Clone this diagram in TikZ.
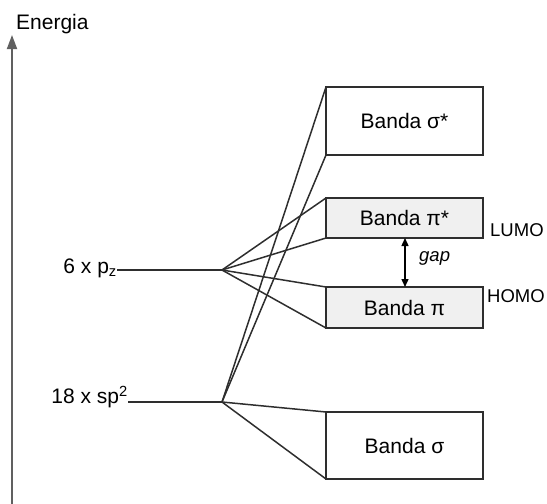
\documentclass[tikz,border=0pt]{standalone}
\usepackage{fontspec}
\setmainfont{Liberation Sans}
\usetikzlibrary{arrows.meta}
\definecolor{linegray}{HTML}{2E2E2E}
\definecolor{axisgray}{HTML}{606060}
\definecolor{bandfill}{HTML}{F0F0F0}
\begin{document}
\begin{tikzpicture}[x=1pt,y=-1pt,
  band/.style={draw=linegray, line width=1.7pt, minimum width=157pt, inner sep=0pt, outer sep=0pt,
    font=\fontsize{21}{24}\selectfont, anchor=north west},
  conn/.style={draw=linegray, line width=1.5pt},
  lbl/.style={font=\fontsize{21}{24}\selectfont, inner sep=0pt},
  smalllbl/.style={font=\fontsize{18.5}{21}\selectfont, inner sep=0pt}]
\useasboundingbox (0,0) rectangle (547,504);
% axis
\coordinate (axbot) at (12,504);
\coordinate (axtop) at (12,35);
\draw[axisgray, line width=1.8pt, -{Triangle[length=14pt,width=10pt]}] (axbot) -- (axtop);
\node[lbl, anchor=west] (energia) at (16,24) {Energia};
% bands
\node[band, minimum height=68pt] (sigstar) at (326,87) {Banda σ*};
\node[band, minimum height=40pt, fill=bandfill] (pistar) at (326,198) {Banda π*};
\node[band, minimum height=41pt, fill=bandfill] (pi) at (326,287) {Banda π};
\node[band, minimum height=67pt] (sig) at (326,412) {Banda σ};
% levels
\node[lbl, anchor=east] (pzlbl) at (117,268) {6 x p\textsubscript{z}};
\node[lbl, anchor=east] (splbl) at (128,397) {18 x sp\textsuperscript{2}};
\coordinate (pz) at (222,270);
\coordinate (sp) at (222,402);
\draw[conn] (pzlbl.east |- pz) -- (pz);
\draw[conn] (splbl.east |- sp) -- (sp);
% connectors
\draw[conn] (pz) -- (pistar.north west);
\draw[conn] (pz) -- (pistar.south west);
\draw[conn] (pz) -- (pi.north west);
\draw[conn] (pz) -- (pi.south west);
\draw[conn] (sp) -- (sigstar.north west);
\draw[conn] (sp) -- (sigstar.south west);
\draw[conn] (sp) -- (sig.north west);
\draw[conn] (sp) -- (sig.south west);
% gap
\coordinate (gx) at (405,0);
\draw[black, line width=1.4pt, {Triangle[length=8pt,width=7pt]}-{Triangle[length=8pt,width=7pt]}]
  (gx |- pistar.south) -- (gx |- pi.north);
\node[smalllbl, anchor=west, font=\fontsize{18.5}{21}\selectfont\itshape] (gap) at (419,258) {gap};
\node[smalllbl, anchor=west] (lumo) at (490,230) {LUMO};
\node[smalllbl, anchor=west] (homo) at (487,296) {HOMO};
\end{tikzpicture}
\end{document}
